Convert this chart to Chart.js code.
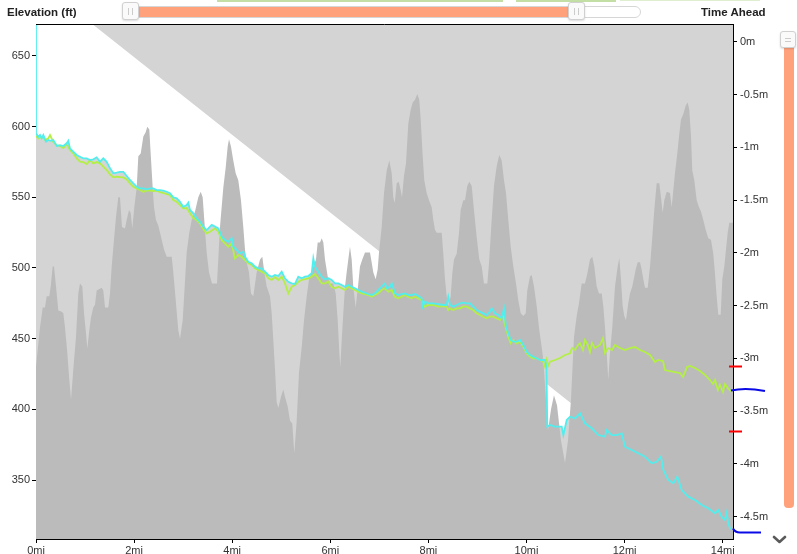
<!DOCTYPE html>
<html>
<head>
<meta charset="utf-8">
<script src="https://cdn.jsdelivr.net/npm/chart.js@4/dist/chart.umd.min.js"></script>
<style>
  html, body { margin:0; padding:0; background:#fff; width:797px; height:554px; overflow:hidden; font-family:"Liberation Sans", Arial, sans-serif; }
  #wrap { position:absolute; left:0; top:0; width:797px; height:554px; }
  canvas { position:absolute; left:0; top:0; }
  .ttl { position:absolute; font-weight:bold; font-size:11.5px; color:#222; top:6px; }
  .abs { position:absolute; box-sizing:border-box; }
</style>
</head>
<body>
<div id="wrap">
  <canvas id="c" width="797" height="554"></canvas>
  <div class="abs" style="left:217px;top:0;width:286px;height:2px;background:#c4dfa6"></div>
  <div class="abs" style="left:516px;top:0;width:100px;height:2px;background:#c4dfa6"></div>
  <div class="abs" style="left:620px;top:0;width:140px;height:1px;background:#dfeed0"></div>
  <div class="ttl" style="left:7px">Elevation (ft)</div>
  <div class="ttl" style="left:701px">Time Ahead</div>
  <!-- top range slider -->
  <div class="abs" style="left:122px;top:6px;width:519px;height:12px;border:1px solid #d6d6d6;border-radius:7px;background:#fff"></div>
  <div class="abs" style="left:132px;top:7px;width:442px;height:10px;background:#ffa27c"></div>
  <div class="abs" style="left:122px;top:2px;width:17px;height:18px;border:1px solid #d0d0d0;border-radius:3px;background:#fafafa;box-shadow:0 1px 2px rgba(0,0,0,0.15)">
    <div class="abs" style="left:5px;top:5px;width:1px;height:7px;background:#ccc"></div>
    <div class="abs" style="left:9px;top:5px;width:1px;height:7px;background:#ccc"></div>
  </div>
  <div class="abs" style="left:568px;top:2px;width:17px;height:18px;border:1px solid #d0d0d0;border-radius:3px;background:#fafafa;box-shadow:0 1px 2px rgba(0,0,0,0.15)">
    <div class="abs" style="left:5px;top:5px;width:1px;height:7px;background:#ccc"></div>
    <div class="abs" style="left:9px;top:5px;width:1px;height:7px;background:#ccc"></div>
  </div>
  <!-- right vertical slider -->
  <div class="abs" style="left:784px;top:44px;width:10px;height:464px;background:#ffa27c;border-radius:0 0 4px 4px"></div>
  <div class="abs" style="left:780px;top:31px;width:16px;height:17px;border:1px solid #d0d0d0;border-radius:3px;background:#fafafa;box-shadow:0 1px 2px rgba(0,0,0,0.15)">
    <div class="abs" style="left:4px;top:6px;width:6px;height:1px;background:#ccc"></div>
    <div class="abs" style="left:4px;top:9px;width:6px;height:1px;background:#ccc"></div>
  </div>
  <svg class="abs" style="left:770px;top:533px" width="20" height="14"><polyline points="4,4 9.5,9 15,4" fill="none" stroke="#5a5a5a" stroke-width="2.6" stroke-linecap="round" stroke-linejoin="round"/></svg>
</div>
<script>
// ---- data (x in miles) ----
const elevMiles = [
  0,0.082,0.137,0.183,0.218,0.271,0.300,0.340,0.367,0.408,
  0.455,0.524,0.557,0.591,0.638,0.679,0.714,0.760,0.815,0.862,
  0.897,0.944,0.979,1.019,1.046,1.087,1.121,1.168,1.203,1.237,
  1.339,1.372,1.407,1.474,1.509,1.543,1.590,1.631,1.678,1.712,
  1.753,1.814,1.849,1.896,1.931,1.963,2.004,2.053,2.086,2.135,
  2.188,2.236,2.269,2.310,2.338,2.379,2.406,2.446,2.493,2.563,
  2.610,2.665,2.767,2.799,2.854,2.901,2.936,2.991,3.023,3.072,
  3.125,3.174,3.242,3.309,3.358,3.398,3.431,3.480,3.527,3.588,
  3.690,3.751,3.819,3.867,3.908,3.935,3.975,4.022,4.071,4.124,
  4.179,4.226,4.261,4.295,4.342,4.383,4.430,4.499,4.567,4.614,
  4.655,4.703,4.771,4.805,4.838,4.873,4.907,4.940,4.995,5.042,
  5.076,5.131,5.178,5.225,5.266,5.315,5.362,5.417,5.464,5.519,
  5.566,5.621,5.654,5.708,5.743,5.790,5.825,5.858,5.892,5.947,
  5.994,6.061,6.110,6.151,6.184,6.204,6.233,6.265,6.300,6.334,
  6.367,6.401,6.436,6.468,6.517,6.565,6.605,6.652,6.707,6.762,
  6.809,6.843,6.876,6.925,6.966,6.993,7.048,7.095,7.150,7.203,
  7.252,7.284,7.313,7.354,7.394,7.435,7.462,7.502,7.543,7.590,
  7.639,7.680,7.727,7.774,7.814,7.843,7.884,7.916,7.965,8.012,
  8.067,8.100,8.134,8.169,8.271,8.304,8.338,8.373,8.405,8.454,
  8.487,8.522,8.577,8.624,8.658,8.711,8.746,8.793,8.834,8.883,
  8.929,8.984,9.038,9.087,9.133,9.201,9.235,9.290,9.337,9.392,
  9.445,9.494,9.541,9.582,9.629,9.678,9.731,9.786,9.833,9.882,
  9.935,9.984,10.016,10.071,10.106,10.153,10.208,10.261,10.310,10.343,
  10.397,10.438,10.500,10.560,10.622,10.703,10.785,10.846,10.907,10.968,
  11.023,11.070,11.125,11.192,11.239,11.294,11.341,11.382,11.431,11.478,
  11.533,11.566,11.600,11.635,11.667,11.702,11.749,11.804,11.859,11.892,
  11.926,11.961,11.994,12.028,12.075,12.110,12.157,12.198,12.226,12.267,
  12.314,12.348,12.381,12.416,12.471,12.518,12.565,12.605,12.654,12.707,
  12.742,12.776,12.809,12.858,12.925,12.960,12.993,13.027,13.074,13.109,
  13.150,13.197,13.246,13.286,13.319,13.354,13.380,13.421,13.470,13.517,
  13.557,13.604,13.653,13.706,13.761,13.808,13.843,13.877,13.910,13.959,
  13.992,14.033,14.067,14.102,14.135,14.21
];
const elevFeet = [
  430,458,472,472,480,480,487,501,501,487,
  470,469,468,458,440,421,407,428,451,482,
  489,487,468,454,443,456,465,472,474,484,
  486,484,472,472,482,501,520,536,550,550,
  529,528,534,541,539,528,543,557,579,581,
  593,596,600,598,581,557,543,534,530,520,
  513,508,508,497,475,456,450,463,482,511,
  525,534,540,550,554,550,534,511,497,489,
  489,529,557,571,586,591,586,576,567,562,
  548,529,513,504,497,482,480,497,506,508,
  497,487,480,468,449,428,405,401,409,414,
  409,402,392,390,369,392,426,444,463,480,
  492,497,501,506,518,518,521,518,506,494,
  489,489,482,463,440,430,449,468,487,497,
  506,515,506,487,472,487,501,506,511,511,
  511,504,497,492,499,511,529,553,569,576,
  567,550,546,560,561,555,550,565,574,602,
  612,617,619,623,619,605,579,562,553,548,
  543,534,527,525,525,510,492,480,473,480,
  496,506,510,525,541,548,548,558,561,558,
  541,522,506,501,489,489,503,534,558,572,
  580,576,562,553,534,515,501,489,477,468,
  466,468,484,494,495,487,473,456,444,435,
  407,385,400,410,403,378,362,378,407,451,
  466,475,489,489,496,506,508,501,487,482,
  482,473,458,440,421,440,458,487,501,507,
  492,473,466,463,475,482,487,494,499,504,
  504,499,492,486,486,501,522,541,560,560,
  550,539,548,554,553,543,555,567,581,593,
  605,609,615,617,612,593,569,562,548,543,
  540,534,527,521,520,510,496,480,467,467,
  492,501,513,525,532,532
];
// time ahead, minutes (cyan series)
const cyanMiles = [
  0,0,0.047,0.082,0.116,0.149,0.204,0.251,0.300,0.353,
  0.422,0.489,0.557,0.626,0.659,0.693,0.760,0.830,0.897,0.964,
  1.034,1.101,1.168,1.237,1.305,1.372,1.441,1.509,1.576,1.645,
  1.712,1.780,1.849,1.916,1.984,2.053,2.120,2.188,2.257,2.324,
  2.391,2.461,2.528,2.595,2.665,2.732,2.799,2.868,2.936,3.003,
  3.072,3.105,3.140,3.207,3.276,3.343,3.411,3.480,3.582,3.649,
  3.717,3.786,3.853,3.920,3.990,4.022,4.092,4.159,4.226,4.261,
  4.328,4.397,4.465,4.532,4.601,4.669,4.736,4.805,4.873,4.940,
  5.009,5.076,5.144,5.213,5.280,5.348,5.417,5.484,5.551,5.621,
  5.654,5.688,5.755,5.825,5.892,5.959,6.028,6.096,6.163,6.232,
  6.300,6.367,6.436,6.503,6.571,6.640,6.707,6.775,6.844,6.911,
  6.979,7.048,7.115,7.150,7.217,7.252,7.319,7.386,7.456,7.523,
  7.590,7.659,7.727,7.794,7.863,7.884,7.931,7.998,8.100,8.202,
  8.304,8.373,8.405,8.440,8.507,8.577,8.644,8.711,8.781,8.848,
  8.915,8.984,9.052,9.119,9.188,9.255,9.290,9.357,9.425,9.494,
  9.541,9.582,9.629,9.678,9.731,9.800,9.867,9.935,10.004,10.071,
  10.138,10.208,10.275,10.336,10.377,10.407,10.424,10.479,10.581,10.718,
  10.751,10.820,10.887,10.989,11.091,11.192,11.329,11.464,11.600,11.635,
  11.737,11.839,11.941,12.008,12.145,12.279,12.416,12.552,12.654,12.742,
  12.789,12.891,12.993,13.074,13.164,13.298,13.435,13.572,13.706,13.843,
  13.910,13.979,14.047,14.081,14.114,14.149,14.184
];
const cyanMin = [
  0.3,-0.868,-0.900,-0.884,-0.915,-0.884,-0.947,-0.931,-0.938,-0.931,
  -0.988,-0.979,-0.988,-0.962,-0.938,-1.010,-1.042,-1.073,-1.089,-1.105,
  -1.105,-1.121,-1.114,-1.095,-1.137,-1.105,-1.137,-1.199,-1.247,-1.241,
  -1.232,-1.232,-1.272,-1.310,-1.341,-1.374,-1.389,-1.389,-1.398,-1.389,
  -1.389,-1.405,-1.405,-1.411,-1.421,-1.436,-1.474,-1.484,-1.516,-1.563,
  -1.547,-1.525,-1.594,-1.626,-1.673,-1.705,-1.753,-1.784,-1.736,-1.752,
  -1.768,-1.847,-1.878,-1.895,-1.863,-1.942,-1.973,-2.005,-1.989,-2.037,
  -2.084,-2.099,-2.131,-2.147,-2.147,-2.179,-2.210,-2.226,-2.210,-2.220,
  -2.179,-2.241,-2.274,-2.289,-2.295,-2.226,-2.241,-2.226,-2.220,-2.194,
  -2.052,-2.131,-2.179,-2.226,-2.251,-2.241,-2.257,-2.289,-2.289,-2.305,
  -2.321,-2.305,-2.321,-2.336,-2.352,-2.368,-2.378,-2.390,-2.400,-2.384,
  -2.352,-2.321,-2.289,-2.336,-2.321,-2.289,-2.384,-2.400,-2.390,-2.384,
  -2.400,-2.400,-2.390,-2.409,-2.431,-2.510,-2.463,-2.478,-2.478,-2.485,
  -2.494,-2.494,-2.416,-2.494,-2.510,-2.494,-2.478,-2.472,-2.478,-2.478,
  -2.510,-2.542,-2.558,-2.573,-2.589,-2.558,-2.526,-2.573,-2.589,-2.620,
  -2.526,-2.700,-2.762,-2.826,-2.842,-2.842,-2.826,-2.873,-2.937,-2.968,
  -2.984,-2.999,-3.015,-3.015,-3.015,-3.079,-3.647,-3.631,-3.647,-3.647,
  -3.726,-3.584,-3.552,-3.568,-3.520,-3.615,-3.662,-3.726,-3.742,-3.678,
  -3.726,-3.726,-3.710,-3.837,-3.868,-3.899,-3.931,-3.994,-3.979,-3.931,
  -4.057,-4.152,-4.183,-4.121,-4.247,-4.310,-4.341,-4.389,-4.420,-4.467,
  -4.436,-4.499,-4.531,-4.465,-4.562,-4.610,-4.616
];
// time ahead, minutes (green series)
const greenMiles = [
  0,0.047,0.116,0.183,0.251,0.285,0.353,0.422,0.489,0.557,
  0.626,0.693,0.760,0.830,0.897,0.964,1.034,1.101,1.168,1.237,
  1.305,1.372,1.441,1.509,1.576,1.645,1.712,1.780,1.849,1.916,
  1.984,2.053,2.120,2.188,2.257,2.324,2.391,2.461,2.528,2.595,
  2.665,2.732,2.799,2.868,2.936,3.003,3.072,3.140,3.207,3.276,
  3.343,3.411,3.480,3.547,3.649,3.717,3.786,3.853,3.920,3.990,
  4.057,4.124,4.194,4.261,4.328,4.397,4.465,4.532,4.601,4.669,
  4.736,4.805,4.873,4.940,5.009,5.076,5.144,5.213,5.280,5.348,
  5.417,5.484,5.551,5.621,5.688,5.755,5.825,5.892,5.959,6.028,
  6.096,6.163,6.232,6.300,6.367,6.436,6.503,6.571,6.640,6.707,
  6.775,6.844,6.911,6.979,7.048,7.115,7.183,7.252,7.319,7.386,
  7.456,7.523,7.590,7.659,7.727,7.794,7.863,7.931,7.998,8.100,
  8.202,8.304,8.373,8.405,8.440,8.507,8.577,8.644,8.711,8.781,
  8.848,8.915,8.984,9.052,9.119,9.188,9.255,9.323,9.392,9.459,
  9.527,9.562,9.629,9.678,9.731,9.800,9.867,9.935,10.004,10.071,
  10.138,10.208,10.275,10.343,10.377,10.411,10.438,10.479,10.581,10.683,
  10.785,10.887,10.928,10.989,11.050,11.091,11.152,11.192,11.253,11.294,
  11.335,11.396,11.498,11.559,11.600,11.661,11.743,11.804,11.906,12.008,
  12.110,12.212,12.314,12.416,12.518,12.620,12.681,12.783,12.824,12.926,
  13.028,13.130,13.191,13.273,13.334,13.436,13.538,13.640,13.742,13.803,
  13.843,13.904,13.945,14.006,14.047,14.108,14.184
];
const greenMin = [
  -0.893,-0.915,-0.900,-0.931,-0.915,-0.884,-0.950,-0.979,-0.988,-1.007,
  -0.969,-1.026,-1.057,-1.105,-1.137,-1.140,-1.159,-1.121,-1.152,-1.140,
  -1.152,-1.184,-1.215,-1.256,-1.285,-1.279,-1.282,-1.285,-1.304,-1.341,
  -1.374,-1.389,-1.405,-1.421,-1.411,-1.411,-1.414,-1.411,-1.424,-1.433,
  -1.443,-1.452,-1.500,-1.516,-1.547,-1.578,-1.575,-1.626,-1.670,-1.689,
  -1.720,-1.774,-1.815,-1.800,-1.768,-1.800,-1.878,-1.910,-1.942,-1.910,
  -2.052,-2.021,-2.037,-2.068,-2.099,-2.115,-2.147,-2.163,-2.179,-2.194,
  -2.241,-2.257,-2.229,-2.257,-2.226,-2.289,-2.384,-2.321,-2.305,-2.274,
  -2.257,-2.248,-2.241,-2.226,-2.201,-2.241,-2.289,-2.289,-2.274,-2.321,
  -2.336,-2.321,-2.336,-2.352,-2.321,-2.336,-2.352,-2.368,-2.384,-2.390,
  -2.400,-2.416,-2.400,-2.384,-2.352,-2.336,-2.368,-2.352,-2.416,-2.431,
  -2.416,-2.400,-2.416,-2.431,-2.416,-2.431,-2.447,-2.510,-2.494,-2.494,
  -2.510,-2.504,-2.510,-2.542,-2.526,-2.542,-2.526,-2.526,-2.510,-2.510,
  -2.526,-2.542,-2.573,-2.589,-2.605,-2.620,-2.605,-2.605,-2.620,-2.636,
  -2.605,-2.684,-2.794,-2.857,-2.826,-2.857,-2.842,-2.889,-2.952,-2.984,
  -2.999,-2.999,-3.015,-3.031,-3.079,-3.015,-3.072,-3.031,-3.015,-2.996,
  -2.968,-2.952,-2.902,-2.921,-2.873,-2.857,-2.921,-2.826,-2.873,-2.939,
  -2.854,-2.902,-2.873,-2.807,-2.949,-2.902,-2.921,-2.873,-2.902,-2.921,
  -2.902,-2.892,-2.921,-2.939,-2.968,-3.034,-3.015,-3.025,-3.110,-3.120,
  -3.129,-3.139,-3.176,-3.082,-3.072,-3.091,-3.120,-3.157,-3.205,-3.243,
  -3.205,-3.299,-3.252,-3.318,-3.243,-3.281,-3.318
];
// pace reference line (minutes)
const refMiles = [0, 14.21];
const refMin = [0.59, -4.64];
// marker values beside the right axis (minutes)
const endMarks = [-3.30, -4.65];
const redMarks = [-3.07, -3.69];

const FONT = '"Liberation Sans", Arial, sans-serif';
const pts = (xs, ys) => xs.slice(0, Math.min(xs.length, ys.length)).map((x, i) => ({x, y: ys[i]}));

const overlay = {
  id: 'overlay',
  afterDraw(chart) {
    const {ctx, chartArea: a, scales} = chart;
    const y2 = scales.y2;
    ctx.save();
    ctx.strokeStyle = '#000'; ctx.lineWidth = 1;
    ctx.beginPath(); ctx.moveTo(a.left, a.top + 0.5); ctx.lineTo(a.right, a.top + 0.5); ctx.stroke();
    ctx.strokeStyle = '#ff0000'; ctx.lineWidth = 2;
    redMarks.forEach(v => {
      const y = Math.round(y2.getPixelForValue(v)) + 0.5;
      ctx.beginPath(); ctx.moveTo(a.right - 4, y); ctx.lineTo(a.right + 9, y); ctx.stroke();
    });
    ctx.strokeStyle = '#0a0ae6'; ctx.lineWidth = 2;
    let y = y2.getPixelForValue(endMarks[0]);
    ctx.beginPath(); ctx.moveTo(a.right - 2, y + 0.5);
    ctx.bezierCurveTo(a.right + 10, y - 2.5, a.right + 20, y - 1.5, a.right + 32, y + 1);
    ctx.stroke();
    y = y2.getPixelForValue(endMarks[1]);
    ctx.beginPath(); ctx.moveTo(a.right, y - 4);
    ctx.quadraticCurveTo(a.right + 2, y, a.right + 7, y);
    ctx.lineTo(a.right + 28, y);
    ctx.stroke();
    ctx.restore();
  }
};

const tickFont = {family: FONT, size: 11};
new Chart(document.getElementById('c'), {
  type: 'line',
  data: {
    datasets: [
      {label: 'cyan', data: pts(cyanMiles, cyanMin), yAxisID: 'y2', borderColor: '#52eeee', borderWidth: 1.8, fill: false, order: 1},
      {label: 'green', data: pts(greenMiles, greenMin), yAxisID: 'y2', borderColor: '#b4ef46', borderWidth: 1.8, fill: false, order: 2},
      {label: 'elevation', data: pts(elevMiles, elevFeet), yAxisID: 'y', borderColor: 'transparent', borderWidth: 0, backgroundColor: '#bbbbbb', fill: 'start', order: 3},
      {label: 'cyanFill', data: pts(cyanMiles, cyanMin), yAxisID: 'y2', borderColor: 'transparent', borderWidth: 0, backgroundColor: '#d4d4d4', fill: 'start', order: 4},
      {label: 'ref', data: pts(refMiles, refMin), yAxisID: 'y2', borderColor: 'transparent', borderWidth: 0, backgroundColor: '#d4d4d4', fill: 'end', order: 5}
    ]
  },
  options: {
    responsive: false,
    animation: false,
    devicePixelRatio: 1,
    layout: {padding: {top: 24, left: 0, right: 0, bottom: 0}},
    elements: {point: {radius: 0, hoverRadius: 0}, line: {tension: 0}},
    plugins: {legend: {display: false}, tooltip: {enabled: false}, filler: {drawTime: 'beforeDatasetsDraw'}},
    events: [],
    scales: {
      x: {
        type: 'linear', min: 0, max: 14.21,
        border: {display: true, color: '#000', width: 1},
        grid: {display: true, drawOnChartArea: false, drawTicks: true, tickLength: 4, color: '#000'},
        ticks: {stepSize: 2, includeBounds: false, padding: 1, color: '#333', font: tickFont, maxRotation: 0, callback: v => v + 'mi'},
        afterFit(s) { s.height = 15; }
      },
      y: {
        type: 'linear', position: 'left', min: 308.3, max: 672.6,
        border: {display: false},
        grid: {display: true, drawOnChartArea: false, drawTicks: true, tickLength: 4, color: '#000'},
        ticks: {stepSize: 50, includeBounds: false, padding: 2, color: '#333', font: tickFont},
        afterFit(s) { s.width = 36; }
      },
      y2: {
        type: 'linear', position: 'right', min: -4.711, max: 0.168,
        border: {display: true, color: '#000', width: 1},
        grid: {display: true, drawOnChartArea: false, drawTicks: true, tickLength: 4, color: '#000'},
        ticks: {stepSize: 0.5, includeBounds: false, padding: 3, color: '#333', font: tickFont, callback: v => v + 'm'},
        afterFit(s) { s.width = 64; }
      }
    }
  },
  plugins: [overlay]
});
</script>
</body>
</html>
